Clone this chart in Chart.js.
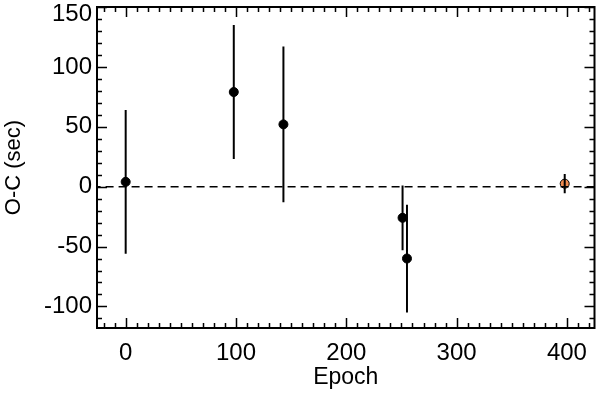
<!DOCTYPE html>
<html>
<head>
<meta charset="utf-8">
<script src="https://cdn.jsdelivr.net/npm/chart.js@4/dist/chart.umd.min.js"></script>
<style>
  html, body { margin: 0; padding: 0; background: #fff; }
  #wrap { width: 600px; height: 393px; }
</style>
</head>
<body>
<div id="wrap"><canvas id="oc"></canvas></div>
<script>
// O-C timing residuals
const epochs = [0, 98, 143, 251, 255];
const residuals = [4, 79, 52, -26, -60];
const errors = [60, 56, 65, 27, 45];

const newEpoch = [398];
const newResidual = [2.5];
const newError = [8];

const xTicks = [0, 100, 200, 300, 400];
const yTicks = [-100, -50, 0, 50, 100, 150];

// error bar segments, null breaks between them
const barData = (xs, ys, es) => {
  let out = [];
  xs.forEach((x, i) => {
    out.push({ x: x, y: ys[i] - es[i] });
    out.push({ x: x, y: ys[i] + es[i] });
    out.push({ x: x, y: null });
  });
  return out;
};

const family = "'Liberation Sans', Arial, sans-serif";
const tickFont = { family: family, size: 24, lineHeight: 1 };
const titleFont = { family: family, size: 22, lineHeight: 1 };

// IDL style frame with inward ticks on all four sides
const frame = {
  id: "frame",
  afterDatasetsDraw(chart) {
    const { ctx, chartArea: a, scales } = chart;
    const xs = scales.x, ys = scales.y;
    ctx.save();
    ctx.strokeStyle = "#000";
    ctx.lineWidth = 2;
    ctx.strokeRect(a.left, a.top, a.right - a.left, a.bottom - a.top);
    ctx.lineWidth = 1.5;
    ctx.beginPath();
    for (let v = -20; v <= 420; v += 10) {
      const p = Math.round(xs.getPixelForValue(v)) + 0.5;
      const len = v % 100 === 0 ? 10 : 5;
      ctx.moveTo(p, a.bottom); ctx.lineTo(p, a.bottom - len);
      ctx.moveTo(p, a.top); ctx.lineTo(p, a.top + len);
    }
    for (let v = -110; v <= 150; v += 10) {
      const p = Math.round(ys.getPixelForValue(v)) + 0.5;
      const len = v % 50 === 0 ? 10 : 5;
      ctx.moveTo(a.left, p); ctx.lineTo(a.left + len, p);
      ctx.moveTo(a.right, p); ctx.lineTo(a.right - len, p);
    }
    ctx.stroke();
    ctx.restore();
  }
};

const yMax = 150;

new Chart(document.getElementById("oc"), {
  type: "scatter",
  data: {
    datasets: [
      {
        type: "line",
        data: [{ x: -30, y: 0 }, { x: 430, y: 0 }],
        borderColor: "#000",
        borderWidth: 1.5,
        borderDash: [8, 5],
        pointRadius: 0
      },
      {
        type: "line",
        data: barData(epochs, residuals, errors),
        borderColor: "#000",
        borderWidth: 2,
        pointRadius: 0,
        spanGaps: false
      },
      {
        type: "line",
        data: barData(newEpoch, newResidual, newError),
        borderColor: "#000",
        borderWidth: 2,
        pointRadius: 0,
        spanGaps: false
      },
      {
        data: epochs.map((x, i) => ({ x: x, y: residuals[i] })),
        backgroundColor: "#000",
        borderColor: "#000",
        pointRadius: 4.5
      },
      {
        data: newEpoch.map((x, i) => ({ x: x, y: newResidual[i] })),
        backgroundColor: "#f08c50",
        borderColor: "#000",
        borderWidth: 1,
        pointRadius: 4.5
      }
    ]
  },
  options: {
    responsive: true,
    maintainAspectRatio: false,
    animation: false,
    layout: { padding: { top: 7, right: 3, left: 0, bottom: 0 } },
    plugins: { legend: { display: false }, tooltip: { enabled: false } },
    scales: {
      x: {
        type: "linear",
        min: -26,
        max: 425,
        grid: { display: false, drawTicks: false },
        border: { display: false },
        afterBuildTicks: s => { s.ticks = xTicks.map(v => ({ value: v })); },
        afterFit: s => { s.height = 65; s.paddingLeft = 0; s.paddingRight = 0; },
        ticks: { color: "#000", font: tickFont, padding: 13, maxRotation: 0 },
        title: { display: true, text: "Epoch", color: "#000", font: { family: family, size: 23, lineHeight: 1 }, padding: { top: 11 } }
      },
      y: {
        type: "linear",
        min: -118,
        max: yMax,
        grid: { display: false, drawTicks: false },
        border: { display: false },
        afterBuildTicks: s => { s.ticks = yTicks.map(v => ({ value: v })); },
        afterFit: s => { s.width = 97; s.paddingTop = 0; s.paddingBottom = 0; },
        ticks: {
          color: "#000",
          padding: 5,
          // top label sits just inside the frame, as in the original
          callback: v => v === yMax ? ["", String(v)] : String(v),
          font: c => ({ family: family, size: 24, lineHeight: c.tick && c.tick.value === yMax ? 0.6 : 1 })
        },
        title: { display: true, text: "O-C (sec)", color: "#000", font: titleFont, padding: { top: 3, bottom: 0 } }
      }
    }
  },
  plugins: [frame]
});
</script>
</body>
</html>
